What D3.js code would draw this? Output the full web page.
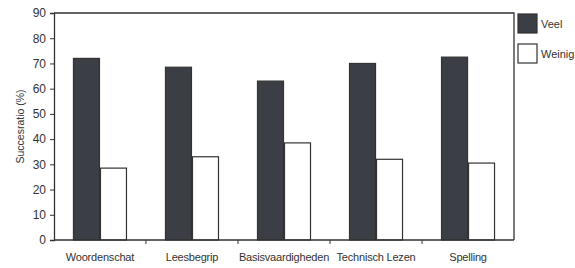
<!DOCTYPE html>
<html>
<head>
<meta charset="utf-8">
<script src="https://cdn.jsdelivr.net/npm/d3@7"></script>
<style>
  body { margin: 0; background: #fff; }
  text { font-family: "Liberation Sans", Arial, sans-serif; fill: #333; }
</style>
</head>
<body>
<div id="chart"></div>
<script>
// data
var categories = ["Woordenschat", "Leesbegrip", "Basisvaardigheden", "Technisch Lezen", "Spelling"];
var seriesNames = ["Veel", "Weinig"];
var veel = [72, 68.5, 63, 70, 72.5];
var weinig = [28.5, 33, 38.5, 32, 30.5];
var yTicks = [0, 10, 20, 30, 40, 50, 60, 70, 80, 90];

var layout = {
    "width": 575,
    "height": 268,
    "margin": ({'top': 13, 'right': 61, 'bottom': 28, 'left': 54})
};
var colors = {"Veel": "#3b3e44", "Weinig": "#ffffff"};

var svg = d3.select("#chart").append("svg")
    .attr("width", layout.width)
    .attr("height", layout.height);

var x0 = layout.margin.left,
    x1 = layout.width - layout.margin.right,
    y0 = layout.height - layout.margin.bottom,
    y1 = layout.margin.top;

// scales
var x = d3.scaleBand().domain(categories).range([x0, x1]).paddingInner(0.413).paddingOuter(0.206);
var xs = d3.scaleBand().domain(seriesNames).range([0, x.bandwidth()]);
var y = d3.scaleLinear().domain([0, 90]).range([y0, y1]);

// rows for the grouped bars
var rows = categories.map((c, i) => ({cat: c, values: [
    {name: "Veel", value: veel[i]},
    {name: "Weinig", value: weinig[i]}
]}));

// bars
var groups = svg.selectAll("g.grp")
    .data(rows)
    .enter().append("g")
    .attr("class", "grp")
    .attr("transform", d => "translate(" + x(d.cat) + ",0)");

groups.selectAll("rect")
    .data(d => d.values)
    .enter().append("rect")
    .attr("x", d => xs(d.name) + 0.5)
    .attr("y", d => y(d.value))
    .attr("width", xs.bandwidth() - 1)
    .attr("height", d => y0 - y(d.value))
    .attr("fill", d => colors[d.name])
    .attr("stroke", "#333")
    .attr("stroke-width", 1.2);

// frame (top and right)
svg.append("path")
    .attr("d", "M" + x0 + "," + y1 + "H" + x1 + "V" + y0)
    .attr("fill", "none")
    .attr("stroke", "#333")
    .attr("stroke-width", 1.3);

// y axis
var yAxis = svg.append("g")
    .attr("transform", "translate(" + x0 + ",0)")
    .call(d3.axisLeft(y).tickValues(yTicks).tickSize(4).tickPadding(4));
yAxis.select(".domain").attr("stroke", "#333").attr("stroke-width", 1.3);
yAxis.selectAll(".tick line").attr("stroke", "#333");
yAxis.selectAll("text").style("font-size", "12px").attr("fill", "#333");

// x axis: ticks at category boundaries, labels centered
var boundaries = categories.slice(1).map(c => x(c) - x.step() * x.paddingInner() / 2);
svg.append("line")
    .attr("x1", x0).attr("x2", x1)
    .attr("y1", y0).attr("y2", y0)
    .attr("stroke", "#333").attr("stroke-width", 1.3);
svg.selectAll("line.xtick")
    .data(boundaries)
    .enter().append("line")
    .attr("class", "xtick")
    .attr("x1", d => d).attr("x2", d => d)
    .attr("y1", y0).attr("y2", y0 + 4)
    .attr("stroke", "#333");
svg.selectAll("text.xlab")
    .data(categories)
    .enter().append("text")
    .attr("class", "xlab")
    .attr("x", d => x(d) + x.bandwidth() / 2)
    .attr("y", y0 + 21)
    .attr("text-anchor", "middle")
    .style("font-size", "11px")
    .style("letter-spacing", "-0.2px")
    .text(d => d);

// y axis title
svg.append("text")
    .attr("transform", "translate(20," + ((y0 + y1) / 2) + ") rotate(-90)")
    .attr("text-anchor", "middle")
    .attr("dy", "0.35em")
    .style("font-size", "10.5px")
    .text("Succesratio (%)");

// legend
var legend = svg.selectAll("g.leg")
    .data(seriesNames)
    .enter().append("g")
    .attr("class", "leg")
    .attr("transform", (d, i) => "translate(518," + (14 + i * 30) + ")");
legend.append("rect")
    .attr("width", 19).attr("height", 19)
    .attr("fill", d => colors[d])
    .attr("stroke", "#333")
    .attr("stroke-width", 1.2);
legend.append("text")
    .attr("x", 23).attr("y", 10)
    .attr("dy", "0.35em")
    .style("font-size", "11px")
    .text(d => d);
</script>
</body>
</html>
